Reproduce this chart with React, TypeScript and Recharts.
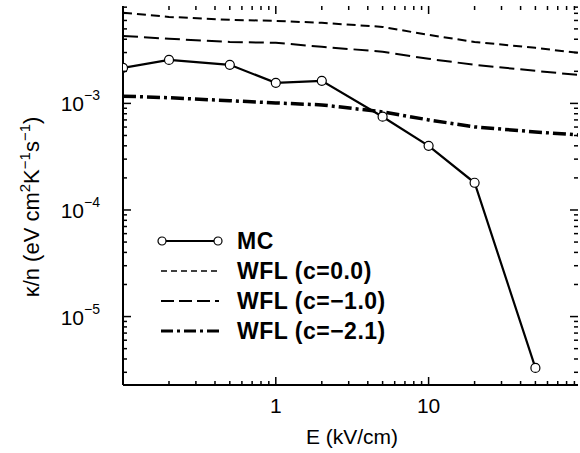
import React from 'react';
import { LineChart, Line, XAxis, YAxis, Legend } from 'recharts';

// E (kV/cm) and kappa/n (eV cm^2 K^-1 s^-1)
const fieldMC = [0.1, 0.2, 0.5, 1, 2, 5, 10, 20, 50];
const kappaMC = [2.15e-3, 2.56e-3, 2.3e-3, 1.56e-3, 1.63e-3, 7.5e-4, 4.0e-4, 1.8e-4, 3.3e-6];

const fieldWFL = [0.1, 0.2, 0.5, 1, 2, 5, 10, 20, 50, 95];
const kappaC00 = [7.08e-3, 6.48e-3, 6.08e-3, 5.95e-3, 5.7e-3, 5.22e-3, 4.39e-3, 3.77e-3, 3.32e-3, 2.98e-3];
const kappaC10 = [4.3e-3, 4.04e-3, 3.77e-3, 3.7e-3, 3.4e-3, 3.05e-3, 2.62e-3, 2.3e-3, 2.02e-3, 1.85e-3];
const kappaC21 = [1.17e-3, 1.13e-3, 1.06e-3, 1.01e-3, 9.68e-4, 8.32e-4, 7.0e-4, 6.02e-4, 5.4e-4, 5.06e-4];

const xTicks = [
  0.1, 0.2, 0.3, 0.4, 0.5, 0.6, 0.7, 0.8, 0.9,
  1, 2, 3, 4, 5, 6, 7, 8, 9,
  10, 20, 30, 40, 50, 60, 70, 80, 90,
];
const yTicks = [
  3e-6, 4e-6, 5e-6, 6e-6, 7e-6, 8e-6, 9e-6,
  1e-5, 2e-5, 3e-5, 4e-5, 5e-5, 6e-5, 7e-5, 8e-5, 9e-5,
  1e-4, 2e-4, 3e-4, 4e-4, 5e-4, 6e-4, 7e-4, 8e-4, 9e-4,
  1e-3, 2e-3, 3e-3, 4e-3, 5e-3, 6e-3, 7e-3, 8e-3,
];
const xLabels = [1, 10];

const legendNames = ['MC', 'WFL (c=0.0)', 'WFL (c=\u22121.0)', 'WFL (c=\u22122.1)'];

const toPoints = (xs: number[], ys: number[]) => xs.map((x, i) => ({ x, y: ys[i] }));
const mcData = toPoints(fieldMC, kappaMC);
const c00Data = toPoints(fieldWFL, kappaC00);
const c10Data = toPoints(fieldWFL, kappaC10);
const c21Data = toPoints(fieldWFL, kappaC21);

const FONT = '"Liberation Sans", Arial, Helvetica, sans-serif';
const P = { left: 123, right: 578, top: 6, bottom: 385 };

const isDecade = (v: number) => {
  const l = Math.log10(v);
  return Math.abs(l - Math.round(l)) < 1e-9;
};

// eslint-disable-next-line @typescript-eslint/no-explicit-any
const XTick = (props: any) => {
  const { x, payload } = props;
  const major = isDecade(payload.value);
  const len = major ? 8 : 4;
  return (
    <g>
      <line x1={x} x2={x} y1={P.bottom} y2={P.bottom - len} stroke="#000" strokeWidth={1.5} />
      <line x1={x} x2={x} y1={P.top} y2={P.top + len} stroke="#000" strokeWidth={1.5} />
      {xLabels.includes(payload.value) && (
        <text x={x} y={413} textAnchor="middle" fontSize={21} fontFamily={FONT} fill="#000">
          {payload.value}
        </text>
      )}
    </g>
  );
};

// eslint-disable-next-line @typescript-eslint/no-explicit-any
const YTick = (props: any) => {
  const { y, payload } = props;
  const major = isDecade(payload.value);
  const len = major ? 8 : 4;
  const exp = Math.round(Math.log10(payload.value));
  return (
    <g>
      <line x1={P.left} x2={P.left + len} y1={y} y2={y} stroke="#000" strokeWidth={1.5} />
      <line x1={P.right} x2={P.right - len} y1={y} y2={y} stroke="#000" strokeWidth={1.5} />
      {major && (
        <text x={100} y={y + 8} textAnchor="end" fontSize={21} fontFamily={FONT} fill="#000">
          10
          <tspan dy={-11} fontSize={14}>{'\u2212' + Math.abs(exp)}</tspan>
        </text>
      )}
    </g>
  );
};

const YTitle = () => (
  <text
    transform="translate(39,207) rotate(-90)"
    textAnchor="middle"
    fontSize={22}
    fontFamily={FONT}
    fill="#000"
  >
    κ/n (eV cm
    <tspan dy={-9} fontSize={15}>2</tspan>
    <tspan dy={9}>K</tspan>
    <tspan dy={-9} fontSize={15}>{'\u22121'}</tspan>
    <tspan dy={9}>s</tspan>
    <tspan dy={-9} fontSize={15}>{'\u22121'}</tspan>
    <tspan dy={9}>)</tspan>
  </text>
);

const XTitle = () => (
  <text x={352} y={444} textAnchor="middle" fontSize={21} fontFamily={FONT} fill="#000">
    E (kV/cm)
  </text>
);

const sample = (i: number) => {
  if (i === 0)
    return (
      <>
        <line x1={5} x2={61} y1={8} y2={8} stroke="#000" strokeWidth={2} />
        <circle cx={5} cy={8} r={4} fill="#fff" stroke="#000" strokeWidth={1.2} />
        <circle cx={61} cy={8} r={4} fill="#fff" stroke="#000" strokeWidth={1.2} />
      </>
    );
  if (i === 1) return <line x1={4} x2={62} y1={8} y2={8} stroke="#000" strokeWidth={1.5} strokeDasharray="6 4" />;
  if (i === 2) return <line x1={4} x2={62} y1={8} y2={8} stroke="#000" strokeWidth={1.8} strokeDasharray="13 5" />;
  return <line x1={4} x2={62} y1={8} y2={8} stroke="#000" strokeWidth={3} strokeDasharray="12 4 3 4" />;
};

const renderLegend = () => (
  <div style={{ fontFamily: FONT }}>
    {legendNames.map((name, i) => (
      <div key={name} style={{ display: 'flex', alignItems: 'center', height: 30 }}>
        <svg width={66} height={16}>{sample(i)}</svg>
        <span
          style={{ marginLeft: 14, fontSize: 23, fontWeight: 700, letterSpacing: 0.5, color: '#000', lineHeight: '30px' }}
        >
          {name}
        </span>
      </div>
    ))}
  </div>
);

export default function App() {
  return (
    <div style={{ position: 'absolute', left: 0, top: 0, width: 580, height: 453, background: '#fff' }}>
      <LineChart width={580} height={453} margin={{ top: 6, right: 2, bottom: 28, left: 0 }}>
        <XAxis
          dataKey="x"
          type="number"
          scale="log"
          domain={[0.1, 95]}
          allowDataOverflow
          ticks={xTicks}
          interval={0}
          tick={<XTick />}
          tickLine={false}
          axisLine={{ stroke: '#000', strokeWidth: 2 }}
          height={40}
          label={<XTitle />}
        />
        <XAxis
          xAxisId="top"
          orientation="top"
          type="number"
          scale="log"
          domain={[0.1, 95]}
          allowDataOverflow
          tick={false}
          tickLine={false}
          axisLine={{ stroke: '#000', strokeWidth: 2 }}
          height={0}
        />
        <YAxis
          dataKey="y"
          type="number"
          scale="log"
          domain={[2.28e-6, 8.2e-3]}
          allowDataOverflow
          ticks={yTicks}
          interval={0}
          tick={<YTick />}
          tickLine={false}
          axisLine={{ stroke: '#000', strokeWidth: 2 }}
          width={123}
          label={<YTitle />}
        />
        <YAxis
          yAxisId="right"
          orientation="right"
          type="number"
          scale="log"
          domain={[2.28e-6, 8.2e-3]}
          allowDataOverflow
          tick={false}
          tickLine={false}
          axisLine={{ stroke: '#000', strokeWidth: 2 }}
          width={0}
        />
        <Line data={c00Data} dataKey="y" type="linear" stroke="#000" strokeWidth={2} strokeDasharray="9 5" dot={false} isAnimationActive={false} />
        <Line data={c10Data} dataKey="y" type="linear" stroke="#000" strokeWidth={2} strokeDasharray="15 6" dot={false} isAnimationActive={false} />
        <Line data={c21Data} dataKey="y" type="linear" stroke="#000" strokeWidth={3.5} strokeDasharray="13 4 3 4" dot={false} isAnimationActive={false} />
        <Line
          data={mcData}
          dataKey="y"
          type="linear"
          stroke="#000"
          strokeWidth={2.2}
          dot={{ r: 4.5, fill: '#fff', stroke: '#000', strokeWidth: 1.2 }}
          isAnimationActive={false}
        />
        <Legend
          layout="vertical"
          align="center"
          verticalAlign="middle"
          content={renderLegend}
          wrapperStyle={{ left: 157, top: 226, width: 280 }}
        />
      </LineChart>
    </div>
  );
}
